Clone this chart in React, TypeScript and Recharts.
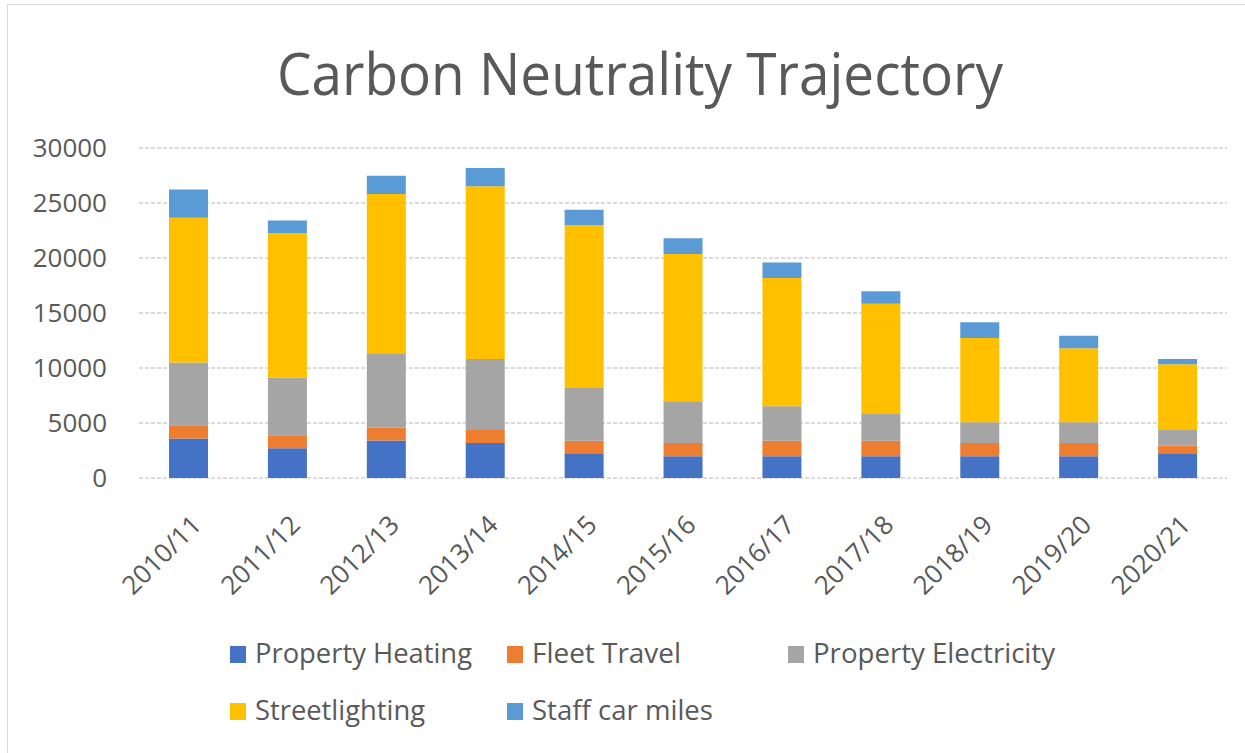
import React from "react";
import { Bar, BarChart, CartesianGrid, Legend, XAxis, YAxis } from "recharts";

// years on the x axis
const categories = ["2010/11", "2011/12", "2012/13", "2013/14", "2014/15", "2015/16", "2016/17", "2017/18", "2018/19", "2019/20", "2020/21"];

// tCO2e per source
const propertyHeating = [3600, 2700, 3420, 3180, 2240, 1970, 1970, 1970, 1970, 1970, 2240];
const fleetTravel = [1200, 1180, 1180, 1180, 1150, 1210, 1420, 1420, 1210, 1210, 700];
const propertyElectricity = [5700, 5240, 6670, 6460, 4790, 3790, 3130, 2430, 1880, 1880, 1420];
const streetlighting = [13150, 13120, 14550, 15700, 14790, 13390, 11660, 10030, 7670, 6730, 5970];
const staffCarMiles = [2570, 1180, 1660, 1660, 1420, 1430, 1420, 1120, 1420, 1150, 490];

const yTicks = [0, 5000, 10000, 15000, 20000, 25000, 30000];

const SERIES = [
  { key: "heating", name: "Property Heating", color: "#4472C4", values: propertyHeating },
  { key: "fleet", name: "Fleet Travel", color: "#ED7D31", values: fleetTravel },
  { key: "electricity", name: "Property Electricity", color: "#A5A5A5", values: propertyElectricity },
  { key: "street", name: "Streetlighting", color: "#FFC000", values: streetlighting },
  { key: "staff", name: "Staff car miles", color: "#5B9BD5", values: staffCarMiles },
];

const chartData = categories.map((year, i) => {
  const row: Record<string, string | number> = { year };
  SERIES.forEach((s) => {
    row[s.key] = s.values[i];
  });
  return row;
});

const TEXT = "#595959";
const FONT = "'Open Sans', 'Noto Sans', sans-serif";

// legend layout (x of key square, row, width of label)
const LEGEND_LAYOUT = [
  { x: 230, row: 0, textWidth: 217 },
  { x: 507, row: 0, textWidth: 149 },
  { x: 788, row: 0, textWidth: 242 },
  { x: 230, row: 1, textWidth: 170 },
  { x: 507, row: 1, textWidth: 181 },
];

const W = 1245;
const H = 753;
const LEGEND_H = 120;
const LEGEND_BOTTOM = 20;
const legendTop = H - LEGEND_BOTTOM - LEGEND_H;

function XTick(props: any) {
  const { x, y, payload } = props;
  return (
    <g transform={`translate(${x + 8},${y + 42})`}>
      <text textAnchor="end" transform="rotate(-45)" dy="0.35em" fill={TEXT} fontSize={26} fontFamily={FONT}>
        {payload.value}
      </text>
    </g>
  );
}

function ChartLegend() {
  return (
    <svg width={W} height={LEGEND_H} style={{ display: "block" }}>
      {SERIES.map((s, i) => {
        const pos = LEGEND_LAYOUT[i];
        const base = 663 - legendTop + pos.row * 57;
        return (
          <g key={s.key}>
            <rect x={pos.x} y={base - 17} width={16} height={17} fill={s.color} />
            <text
              x={pos.x + 25}
              y={base}
              fill={TEXT}
              fontSize={28}
              fontFamily={FONT}
              textLength={pos.textWidth}
              lengthAdjust="spacingAndGlyphs"
            >
              {s.name}
            </text>
          </g>
        );
      })}
    </svg>
  );
}

export default function App() {
  return (
    <div style={{ position: "absolute", left: 0, top: 0, width: W, height: H, background: "#fff", fontFamily: FONT }}>
      <div style={{ position: "absolute", left: 7, top: 4, right: 0, bottom: 0, borderLeft: "1px solid #d9d9d9", borderTop: "1px solid #d9d9d9" }} />
      <svg width={W} height={130} style={{ position: "absolute", left: 0, top: 0 }}>
        <text x={277} y={95} fill={TEXT} fontSize={58} fontFamily={FONT} textLength={726} lengthAdjust="spacingAndGlyphs">
          Carbon Neutrality Trajectory
        </text>
      </svg>
      <div style={{ position: "absolute", left: 0, top: 0 }}>
        <BarChart width={W} height={H} data={chartData} margin={{ top: 148, right: 18, left: 0, bottom: LEGEND_BOTTOM }}>
          <CartesianGrid vertical={false} stroke="#d0d0d0" strokeDasharray="4 2" strokeWidth={1.5} />
          <XAxis dataKey="year" axisLine={false} tickLine={false} tickSize={0} tickMargin={0} height={135} interval={0} tick={<XTick />} />
          <YAxis
            domain={[0, 30000]}
            ticks={yTicks}
            width={139}
            axisLine={false}
            tickLine={false}
            tickSize={0}
            tickMargin={32}
            tick={{ fill: TEXT, fontSize: 26, fontFamily: FONT }}
          />
          <Legend
            verticalAlign="bottom"
            content={() => <ChartLegend />}
            wrapperStyle={{ left: 0, bottom: LEGEND_BOTTOM, width: W, height: LEGEND_H }}
          />
          {SERIES.map((s) => (
            <Bar key={s.key} dataKey={s.key} name={s.name} stackId="total" fill={s.color} barSize={39} isAnimationActive={false} />
          ))}
        </BarChart>
      </div>
    </div>
  );
}
